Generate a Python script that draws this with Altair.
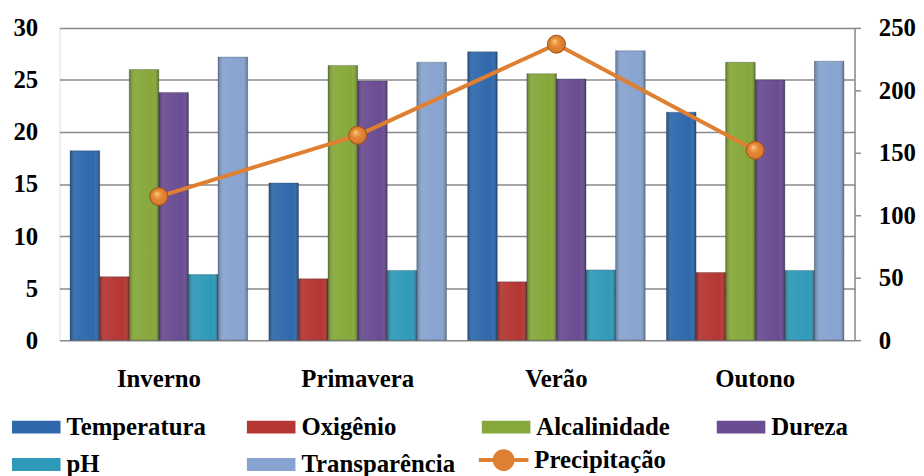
import altair as alt
import pandas as pd

seasons = ["Inverno", "Primavera", "Verão", "Outono"]
series = ["Temperatura", "Oxigênio", "Alcalinidade", "Dureza", "pH", "Transparência"]
temperatura = [18.2, 15.1, 27.7, 21.9]
oxigenio = [6.1, 5.9, 5.6, 6.5]
alcalinidade = [26.0, 26.4, 25.6, 26.7]
dureza = [23.8, 24.9, 25.1, 25.0]
ph = [6.3, 6.7, 6.75, 6.7]
transparencia = [27.2, 26.7, 27.8, 26.8]
precipitacao = [115, 164, 237, 152]

bar_colors = ["#2F69AC", "#B53632", "#86A83A", "#6A4C92", "#2F9AB8", "#87A3CF"]
line_color = "#DE7F32"

values_by_series = [temperatura, oxigenio, alcalinidade, dureza, ph, transparencia]
rows = []
for s, vals in zip(series, values_by_series):
    for season, v in zip(seasons, vals):
        rows.append({"estacao": season, "serie": s, "valor": v})
bars_df = pd.DataFrame(rows)
line_df = pd.DataFrame({"estacao": seasons, "serie": ["Precipitação"] * 4, "valor": precipitacao})

FONT = "Liberation Serif"
FS = 25
GRID = "#8a8a8a"

x_enc = alt.X("estacao:N", sort=seasons, title=None,
              scale=alt.Scale(paddingInner=0.107, paddingOuter=0.053),
              axis=alt.Axis(labelFont=FONT, labelFontSize=FS, labelFontWeight="bold",
                            labelColor="black", labelPadding=27, domain=False, ticks=False,
                            labelAngle=0))
y_left = alt.Y("valor:Q", title=None,
               scale=alt.Scale(domain=[0, 30], nice=False),
               axis=alt.Axis(values=[0, 5, 10, 15, 20, 25, 30], labelFont=FONT, labelFontSize=FS,
                             labelFontWeight="bold", labelColor="black", labelPadding=22,
                             domain=False, ticks=False, grid=True, gridColor=GRID,
                             gridWidth=1.5, orient="left"))
xoff = alt.XOffset("serie:N", sort=series, scale=alt.Scale(paddingInner=0, paddingOuter=0))

bar_symbol = "M-1,-0.265H1V0.265H-1Z"
bars = alt.Chart(bars_df).mark_bar(stroke="#1e2a3a", strokeOpacity=0.35, strokeWidth=0.8).encode(
    x=x_enc,
    xOffset=xoff,
    y=y_left,
    color=alt.Color("serie:N", sort=series,
                    scale=alt.Scale(domain=series, range=bar_colors),
                    legend=alt.Legend(title=None, orient="none", legendX=-48, legendY=378,
                                      direction="horizontal",
                                      columns=4, gridAlign="all", columnPadding=26,
                                      rowPadding=-16, symbolType=bar_symbol, symbolSize=2401,
                                      symbolStrokeWidth=0, labelFont=FONT, labelFontSize=FS,
                                      labelFontWeight="bold", labelColor="black",
                                      labelOffset=6, padding=0)),
)

shade = alt.Gradient(
    gradient="linear", x1=0, x2=1, y1=0, y2=0,
    stops=[alt.GradientStop(color="rgba(0,0,0,0.28)", offset=0),
           alt.GradientStop(color="rgba(255,255,255,0.06)", offset=0.2),
           alt.GradientStop(color="rgba(255,255,255,0.0)", offset=0.8),
           alt.GradientStop(color="rgba(0,0,0,0.3)", offset=1)])
overlay = alt.Chart(bars_df).mark_bar(fill=shade, strokeWidth=0).encode(
    x=alt.X("estacao:N", sort=seasons),
    xOffset=xoff,
    y=alt.Y("valor:Q"),
)

y_right = alt.Y("valor:Q", title=None,
                scale=alt.Scale(domain=[0, 250], nice=False),
                axis=alt.Axis(values=[0, 50, 100, 150, 200, 250], orient="right",
                              labelFont=FONT, labelFontSize=FS, labelFontWeight="bold",
                              labelColor="black", labelPadding=18, domain=True,
                              domainColor=GRID, domainWidth=1.5, ticks=True, tickSize=6,
                              tickColor=GRID, tickWidth=1.5, grid=False))

line = alt.Chart(line_df).mark_line(color=line_color, strokeWidth=4).encode(
    x=alt.X("estacao:N", sort=seasons),
    y=y_right,
)
precip_symbol = ("M-1,-0.08H1V0.08H-1Z "
                 "M0.44,0A0.44,0.44 0 1,1 -0.44,0A0.44,0.44 0 1,1 0.44,0Z")
points = alt.Chart(line_df).mark_circle(size=330, opacity=1, stroke="#9a4f15",
                                        strokeWidth=1).encode(
    x=alt.X("estacao:N", sort=seasons),
    y=alt.Y("valor:Q"),
    color=alt.Color("serie:N", scale=alt.Scale(domain=["Precipitação"], range=[line_color]),
                    legend=alt.Legend(title=None, orient="none", legendX=423, legendY=411,
                                      symbolType=precip_symbol, symbolSize=2500,
                                      symbolStrokeWidth=0, symbolOpacity=1,
                                      labelFont=FONT, labelFontSize=FS,
                                      labelFontWeight="bold", labelColor="black",
                                      labelOffset=6, padding=0)),
)
glow = alt.Gradient(
    gradient="radial", x1=0.38, y1=0.32, r1=0, x2=0.5, y2=0.5, r2=0.55,
    stops=[alt.GradientStop(color="rgba(255,220,150,0.9)", offset=0),
           alt.GradientStop(color="rgba(255,160,60,0.0)", offset=0.6),
           alt.GradientStop(color="rgba(120,50,0,0.35)", offset=1)])
points_glow = alt.Chart(line_df).mark_circle(size=330, opacity=1, fill=glow).encode(
    x=alt.X("estacao:N", sort=seasons),
    y=alt.Y("valor:Q"),
)

left = alt.layer(bars, overlay)
right = alt.layer(line, points, points_glow)

chart = alt.layer(left, right).resolve_scale(y="independent", color="independent").properties(
    width=802, height=315,
    autosize=alt.AutoSizeParams(type="none"),
    padding={"left": 52, "top": 18, "right": 62, "bottom": 140},
).configure_view(stroke=GRID, strokeWidth=1.5).configure(
    background="white"
).configure_axis(labelFont=FONT, labelFontWeight="bold", labelFontSize=FS).configure_legend(
    labelFont=FONT, labelFontWeight="bold", labelFontSize=FS)

chart.save("out.html", embed_options={"renderer": "svg", "actions": False})
